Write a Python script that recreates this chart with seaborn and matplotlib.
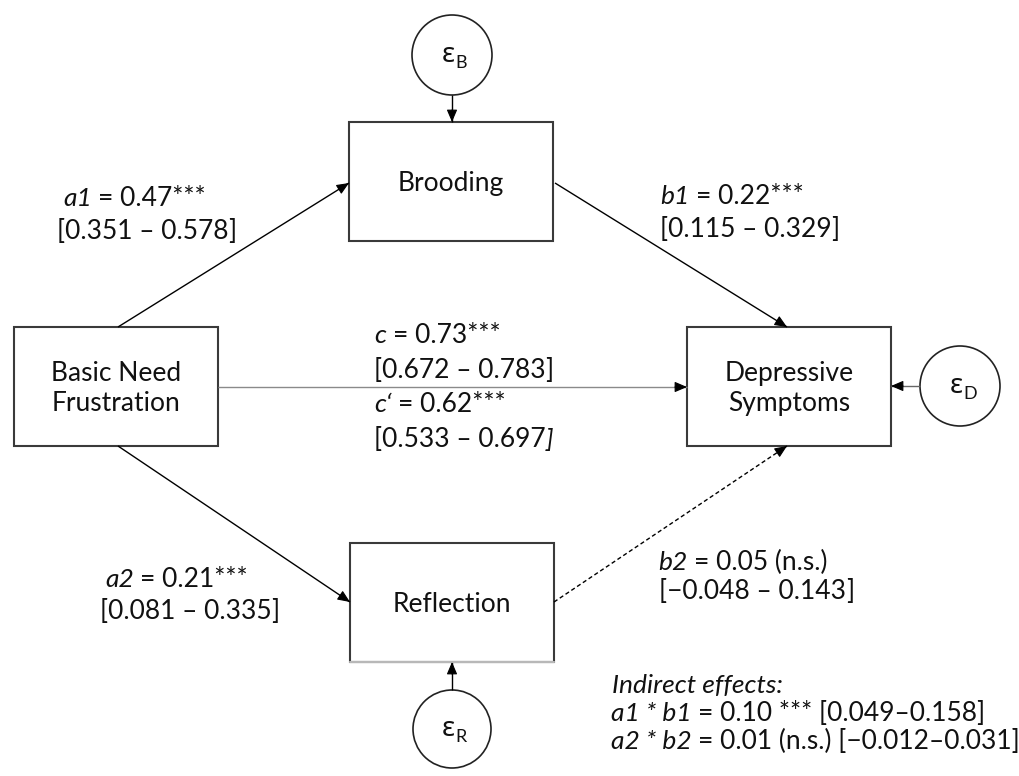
import matplotlib
matplotlib.use("Agg")
import matplotlib.pyplot as plt
import seaborn as sns
from matplotlib.patches import Rectangle, Circle

# ---------------- data ----------------
node_names = ["Basic Need\nFrustration", "Brooding", "Reflection", "Depressive\nSymptoms"]
error_names = ["B", "R", "D"]

path_names = ["a1", "b1", "c", "c\u2018", "a2", "b2"]
path_est = [0.47, 0.22, 0.73, 0.62, 0.21, 0.05]
path_ci_low = [0.351, 0.115, 0.672, 0.533, 0.081, -0.048]
path_ci_high = [0.578, 0.329, 0.783, 0.697, 0.335, 0.143]
path_sig = ["***", "***", "***", "***", "***", " (n.s.)"]

ind_names = [("a1", "b1"), ("a2", "b2")]
ind_est = [0.10, 0.01]
ind_ci_low = [0.049, -0.012]
ind_ci_high = [0.158, 0.031]
ind_sig = [" ***", " (n.s.)"]

# ---------------- style ----------------
sns.set_theme(style="white")
plt.rcParams["font.family"] = ["Lato", "Noto Sans", "DejaVu Sans"]

FS = 19
TXT = "#111111"

def num(v, d):
    s = f"{v:.{d}f}"
    return s.replace("-", "\u2212")

fig = plt.figure(figsize=(10.19, 7.76), dpi=100)
ax = fig.add_axes([0, 0, 1, 1])
ax.set_xlim(0, 1019)
ax.set_ylim(776, 0)
ax.axis("off")
renderer = fig.canvas.get_renderer()


def width_of(s, italic=False):
    t = ax.text(0, 0, s, fontsize=FS, style="italic" if italic else "normal")
    w = t.get_window_extent(renderer).width
    t.remove()
    return w

SPACE = width_of("n n") - width_of("nn")


def runs(x, y, parts):
    """parts: list of (text, italic); a text beginning with a space is
    placed after an explicit space advance."""
    for txt, it in parts:
        lead = len(txt) - len(txt.lstrip(" "))
        x += lead * SPACE
        txt = txt.lstrip(" ")
        t = ax.text(x, y, txt, ha="left", va="baseline", fontsize=FS,
                    style="italic" if it else "normal", color=TXT)
        x += t.get_window_extent(renderer).width
    return x

# ---------------- layout ----------------
boxes = {  # x0, y0, w, h
    0: (14, 327, 204, 119),
    1: (349, 122, 204, 119),
    2: (350, 543, 204, 119),
    3: (687, 327, 204, 119),
}
box_col = "#3a3a3a"
for i, name in enumerate(node_names):
    x0, y0, w, h = boxes[i]
    ax.add_patch(Rectangle((x0, y0), w, h, fill=False, lw=1.5, ec=box_col))
    ax.text(x0 + w / 2, y0 + h / 2 + 2, name, ha="center", va="center",
            fontsize=FS, linespacing=1.25, color=TXT)
x0, y0, w, h = boxes[2]
ax.plot([x0, x0 + w], [y0 + h, y0 + h], color="#b8b8b8", lw=1.6, zorder=3)

circles = {"B": (452, 55, 40), "R": (452, 729, 39), "D": (960, 386, 40)}
for key in error_names:
    cx, cy, r = circles[key]
    ax.add_patch(Circle((cx, cy), r, fill=False, lw=1.2, ec="#222222"))
    ax.text(cx - 4, cy, "\u03b5", ha="center", va="center", fontsize=FS + 1,
            family=["Noto Sans", "DejaVu Sans"], color=TXT)
    ax.text(cx + 3, cy + 8, key, ha="left", va="center", fontsize=13, color=TXT)


def arrow(p0, p1, color="black", ls="-", lw=1.0):
    ax.plot([p0[0], p1[0]], [p0[1], p1[1]], color=color, ls=ls, lw=lw,
            dashes=(3, 2) if ls == "--" else (None, None), solid_capstyle="butt")
    dx, dy = p1[0] - p0[0], p1[1] - p0[1]
    L = (dx ** 2 + dy ** 2) ** 0.5
    back = (p1[0] - dx / L * 12, p1[1] - dy / L * 12)
    ax.annotate("", xy=p1, xytext=back,
                arrowprops=dict(arrowstyle="-|>,head_length=0.75,head_width=0.32",
                                color="black", lw=0.8, shrinkA=0, shrinkB=0,
                                mutation_scale=10))

arrow((118, 327), (349, 183))
arrow((555, 183), (787, 327))
arrow((218, 387), (687, 387), color="#8a8a8a")
arrow((118, 446), (350, 602))
arrow((554, 602), (787, 446), ls="--")
arrow((452, 95), (452, 122))
arrow((452, 690), (452, 662))
arrow((920, 386), (891, 386), color="#666666")

# ---------------- path labels ----------------
label_pos = {  # (x line1, baseline1, x line2, baseline2)
    0: (63, 206, 57, 239),
    1: (660, 204, 660, 237),
    2: (374, 343, 374, 378),
    3: (374, 412, 374, 447),
    4: (105, 587, 100, 619),
    5: (658, 570, 659, 599),
}
for i, nm in enumerate(path_names):
    x1, y1, x2, y2 = label_pos[i]
    runs(x1, y1, [(nm, True), (f" = {num(path_est[i], 2)}{path_sig[i]}", False)])
    parts = [(f"[{num(path_ci_low[i], 3)} \u2013 {num(path_ci_high[i], 3)}", False)]
    parts.append(("]", True) if i == 3 else ("]", False))
    runs(x2, y2, parts)

# ---------------- indirect effects ----------------
runs(612, 693, [("Indirect effects:", True)])
for j, (p, q) in enumerate(ind_names):
    runs(611, 721 + 28 * j,
         [(f"{p} * {q}", True),
          (f" = {num(ind_est[j], 2)}{ind_sig[j]} "
           f"[{num(ind_ci_low[j], 3)}\u2013{num(ind_ci_high[j], 3)}]", False)])

fig.savefig("out.png", dpi=100)
